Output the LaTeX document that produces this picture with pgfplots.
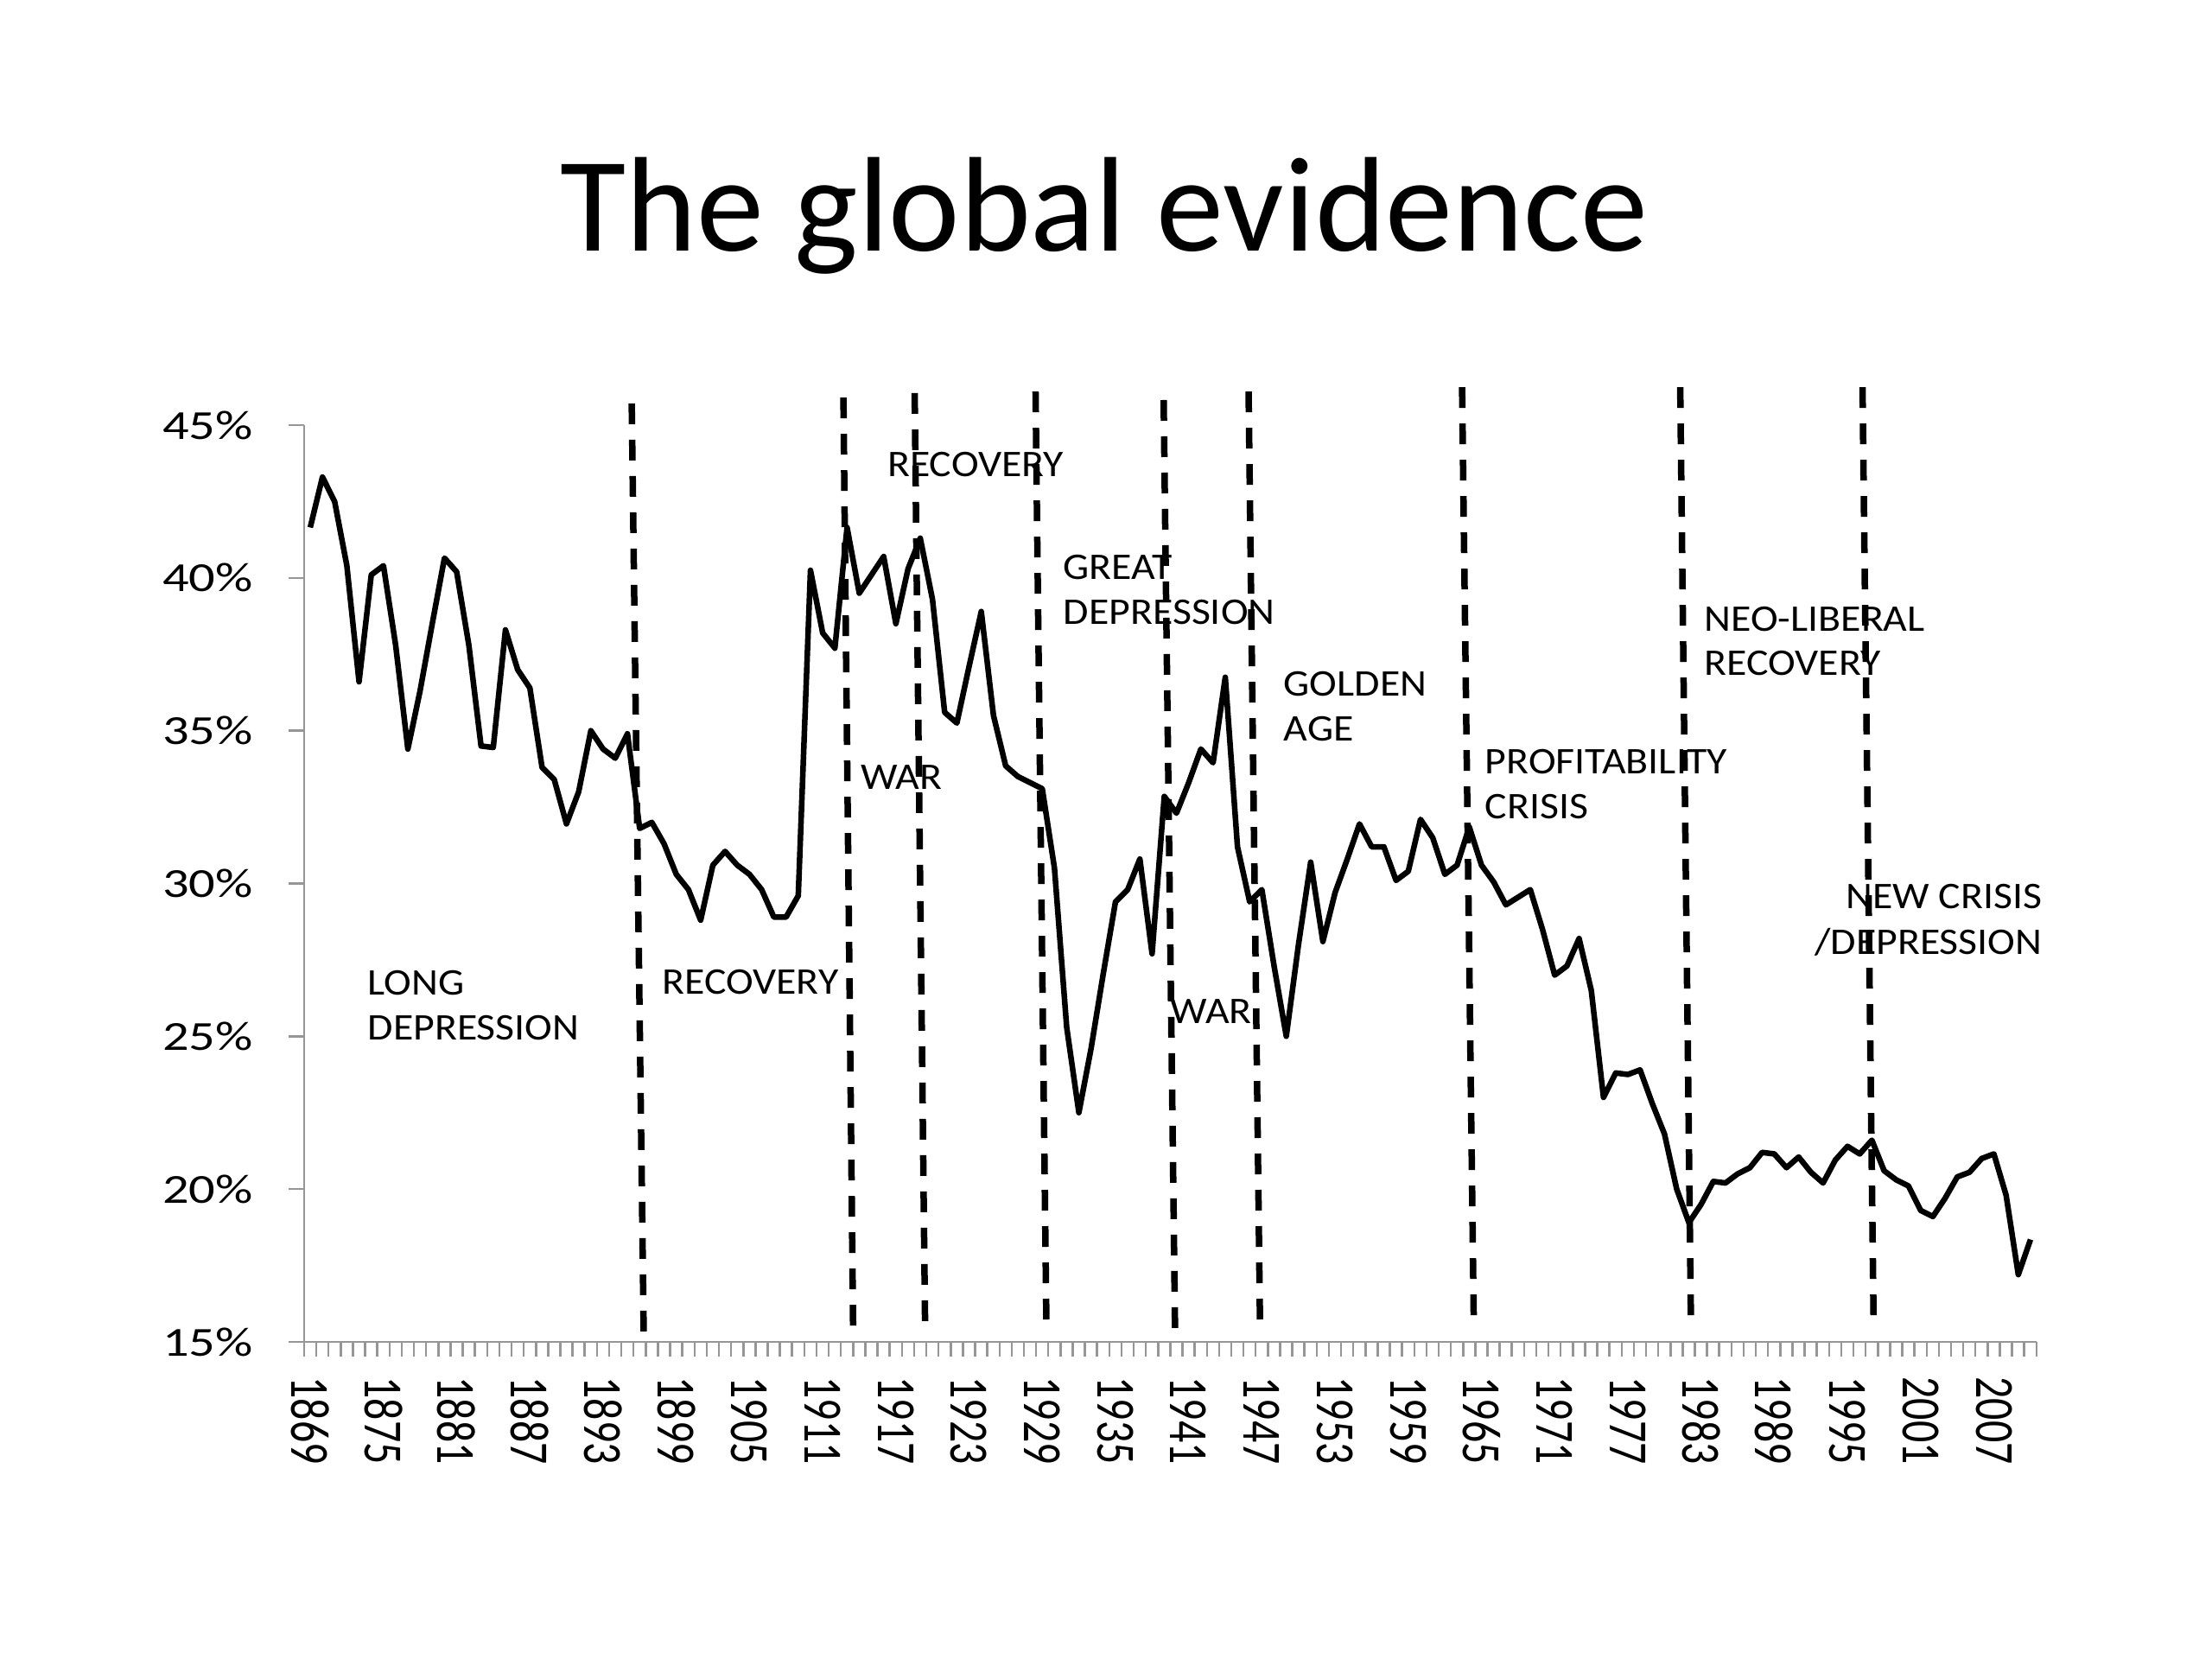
\documentclass[border=0pt]{standalone}
\usepackage{fontspec}
\setmainfont{Carlito}
\usepackage{graphicx}
\usepackage{pgfplots}
\pgfplotsset{compat=1.18}
\definecolor{axgray}{RGB}{150,150,150}
\newcommand{\xl}[1]{\scalebox{0.78}[1]{#1}}
\newcommand{\yl}[1]{\scalebox{1}[0.79]{#1}}
\newcommand{\an}[1]{\scalebox{1}[0.91]{#1}}
\newcommand{\annsize}{\fontsize{13.6}{16}\selectfont}
\begin{document}
\begin{tikzpicture}
\useasboundingbox (0,0) rectangle (256mm,192mm);
\fill[white] (0,0) rectangle (256mm,192mm);
\node[anchor=base, inner sep=0pt, font=\fontsize{44.4}{50}\selectfont] at (127.8mm,162.9mm) {The global evidence};
\begin{axis}[
  at={(35.2mm,36.7mm)}, anchor=south west,
  scale only axis, width=200.5mm, height=106.1mm,
  xmin=1868.5, xmax=2010.5, ymin=15, ymax=45,
  axis x line*=bottom, axis y line*=left,
  axis line style={draw=axgray, line width=0.25mm, -},
  tick align=outside,
  major tick length=1.75mm,
  tick style={draw=axgray, line width=0.25mm},
  xtick={1868.5,1869.5,...,2010.5},
  xticklabels={},
  extra x ticks={1869,1875,1881,1887,1893,1899,1905,1911,1917,1923,1929,1935,1941,1947,1953,1959,1965,1971,1977,1983,1989,1995,2001,2007},
  extra x tick labels={\xl{1869},\xl{1875},\xl{1881},\xl{1887},\xl{1893},\xl{1899},\xl{1905},\xl{1911},\xl{1917},\xl{1923},\xl{1929},\xl{1935},\xl{1941},\xl{1947},\xl{1953},\xl{1959},\xl{1965},\xl{1971},\xl{1977},\xl{1983},\xl{1989},\xl{1995},\xl{2001},\xl{2007}},
  extra x tick style={major tick length=0pt},
  xticklabel style={rotate=-90, anchor=west, inner sep=0pt, font=\fontsize{18.2}{20}\selectfont},
  xticklabel shift=4.0mm,
  ytick={15,20,25,30,35,40,45},
  yticklabels={\yl{15\%},\yl{20\%},\yl{25\%},\yl{30\%},\yl{35\%},\yl{40\%},\yl{45\%}},
  yticklabel style={anchor=east, inner sep=0pt, font=\fontsize{17.2}{19}\selectfont},
  yticklabel shift=4.1mm,
  clip=false,
]
\addplot[black, line width=0.65mm, line join=round] table[x=year, y=rate] {
year rate
1869 41.65
1870 43.3
1871 42.5
1872 40.4
1873 36.6
1874 40.1
1875 40.4
1876 37.8
1877 34.4
1878 36.3
1879 38.5
1880 40.65
1881 40.2
1882 37.8
1883 34.5
1884 34.45
1885 38.3
1886 37.0
1887 36.4
1888 33.8
1889 33.4
1890 31.95
1891 33.0
1892 35.0
1893 34.4
1894 34.1
1895 34.9
1896 31.8
1897 32.0
1898 31.3
1899 30.3
1900 29.8
1901 28.8
1902 30.6
1903 31.05
1904 30.6
1905 30.3
1906 29.8
1907 28.9
1908 28.9
1909 29.6
1910 40.25
1911 38.2
1912 37.7
1913 41.65
1914 39.5
1915 40.1
1916 40.7
1917 38.5
1918 40.3
1919 41.3
1920 39.3
1921 35.6
1922 35.25
1923 37.1
1924 38.9
1925 35.5
1926 33.85
1927 33.5
1928 33.3
1929 33.1
1930 30.5
1931 25.3
1932 22.5
1933 24.6
1934 27.05
1935 29.4
1936 29.8
1937 30.8
1938 27.7
1939 32.85
1940 32.3
1941 33.3
1942 34.4
1943 33.95
1944 36.75
1945 31.2
1946 29.4
1947 29.8
1948 27.3
1949 25.0
1950 28.0
1951 30.7
1952 28.1
1953 29.7
1954 30.8
1955 31.95
1956 31.2
1957 31.2
1958 30.1
1959 30.4
1960 32.1
1961 31.5
1962 30.3
1963 30.6
1964 31.85
1965 30.6
1966 30.05
1967 29.3
1968 29.55
1969 29.8
1970 28.5
1971 27.0
1972 27.3
1973 28.2
1974 26.5
1975 23.0
1976 23.8
1977 23.75
1978 23.9
1979 22.8
1980 21.8
1981 20.0
1982 18.9
1983 19.5
1984 20.25
1985 20.2
1986 20.5
1987 20.7
1988 21.2
1989 21.15
1990 20.7
1991 21.05
1992 20.55
1993 20.2
1994 20.95
1995 21.4
1996 21.15
1997 21.6
1998 20.6
1999 20.3
2000 20.1
2001 19.3
2002 19.1
2003 19.7
2004 20.4
2005 20.55
2006 21.0
2007 21.15
2008 19.8
2009 17.2
2010 18.35
};
% period boundaries (dashed)
\addplot[black, line width=0.75mm, dash pattern=on 2.4mm off 1.8mm] coordinates {(1895.35,45.71) (1896.34,15.05)};
\addplot[black, line width=0.75mm, dash pattern=on 2.4mm off 1.8mm] coordinates {(1912.70,45.9) (1913.50,15.28)};
\addplot[black, line width=0.75mm, dash pattern=on 2.4mm off 1.8mm] coordinates {(1918.54,46.05) (1919.40,15.4)};
\addplot[black, line width=0.75mm, dash pattern=on 2.4mm off 1.8mm] coordinates {(1928.45,46.1) (1929.34,15.5)};
\addplot[black, line width=0.75mm, dash pattern=on 2.4mm off 1.8mm] coordinates {(1938.95,45.82) (1939.89,15.17)};
\addplot[black, line width=0.75mm, dash pattern=on 2.4mm off 1.8mm] coordinates {(1945.91,46.1) (1946.85,15.5)};
\addplot[black, line width=0.75mm, dash pattern=on 2.4mm off 1.8mm] coordinates {(1963.41,46.24) (1964.37,15.6)};
\addplot[black, line width=0.75mm, dash pattern=on 2.4mm off 1.8mm] coordinates {(1981.29,46.24) (1982.17,15.6)};
\addplot[black, line width=0.75mm, dash pattern=on 2.4mm off 1.8mm] coordinates {(1996.23,46.24) (1997.14,15.6)};
% annotations
\node[anchor=base west, inner sep=0pt, font=\annsize] at (axis cs:1873.67,26.34) {\an{LONG}};
\node[anchor=base west, inner sep=0pt, font=\annsize] at (axis cs:1873.67,24.87) {\an{DEPRESSION}};
\node[anchor=base west, inner sep=0pt, font=\annsize] at (axis cs:1897.82,26.37) {\an{RECOVERY}};
\node[anchor=base west, inner sep=0pt, font=\annsize] at (axis cs:1916.27,43.33) {\an{RECOVERY}};
\node[anchor=base west, inner sep=0pt, font=\annsize] at (axis cs:1914.08,33.07) {\an{WAR}};
\node[anchor=base west, inner sep=0pt, font=\annsize] at (axis cs:1930.69,39.94) {\an{GREAT}};
\node[anchor=base west, inner sep=0pt, font=\annsize] at (axis cs:1930.69,38.48) {\an{DEPRESSION}};
\node[anchor=base west, inner sep=0pt, font=\annsize] at (axis cs:1939.47,25.41) {\an{WAR}};
\node[anchor=base west, inner sep=0pt, font=\annsize] at (axis cs:1948.75,36.14) {\an{GOLDEN}};
\node[anchor=base west, inner sep=0pt, font=\annsize] at (axis cs:1948.75,34.67) {\an{AGE}};
\node[anchor=base west, inner sep=0pt, font=\annsize] at (axis cs:1965.25,33.59) {\an{PROFITABILITY}};
\node[anchor=base west, inner sep=0pt, font=\annsize] at (axis cs:1965.25,32.13) {\an{CRISIS}};
\node[anchor=base west, inner sep=0pt, font=\annsize] at (axis cs:1983.24,38.27) {\an{NEO-LIBERAL}};
\node[anchor=base west, inner sep=0pt, font=\annsize] at (axis cs:1983.24,36.81) {\an{RECOVERY}};
\node[anchor=base east, inner sep=0pt, font=\annsize] at (axis cs:2011.0,29.19) {\an{NEW CRISIS}};
\node[anchor=base east, inner sep=0pt, font=\annsize] at (axis cs:2011.0,27.67) {\an{/DEPRESSION}};
\end{axis}
\end{tikzpicture}
\end{document}
